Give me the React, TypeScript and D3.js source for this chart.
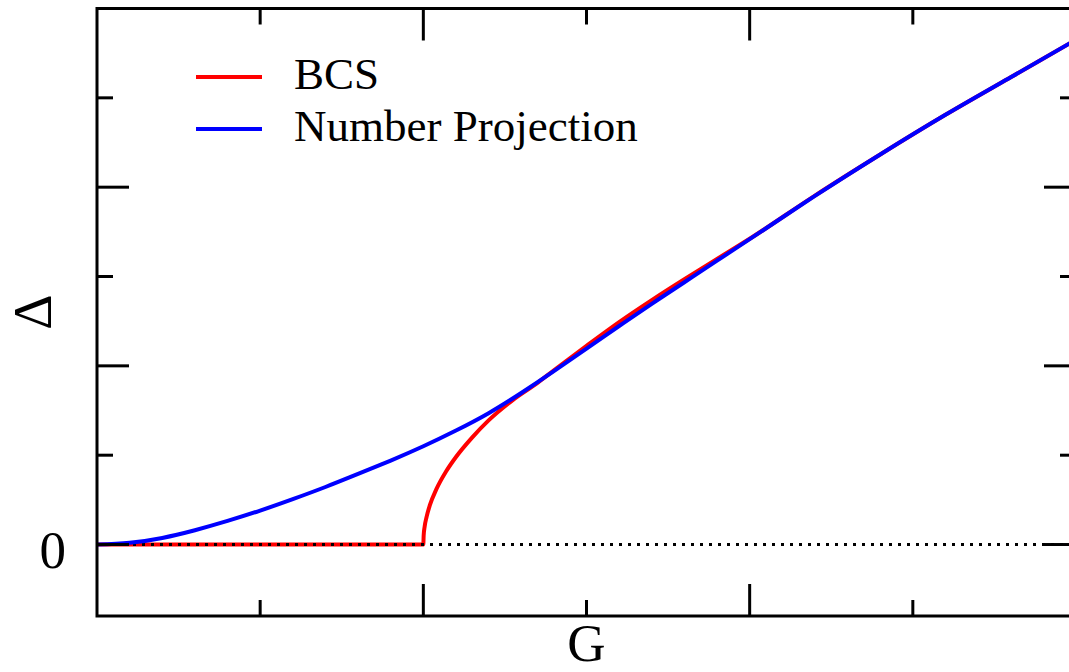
import { useRef, useEffect } from 'react';
import * as d3 from 'd3';

// G on x, Delta on y
const bcsG = [0, 0.5, 1.0, 1.001, 1.004, 1.01, 1.02, 1.04, 1.07, 1.1, 1.15, 1.2, 1.275, 1.35, 1.4, 1.5, 1.6, 1.7, 1.8, 1.9, 2.0, 2.2, 2.4, 2.6, 2.8, 3.0];
const bcsDelta = [0, 0, 0, 0.05, 0.1, 0.155, 0.22, 0.31, 0.41, 0.49, 0.6, 0.695, 0.81, 0.905, 0.975, 1.112, 1.245, 1.368, 1.485, 1.598, 1.711, 1.953, 2.183, 2.405, 2.615, 2.825];

const npG = [0, 0.1, 0.2, 0.3, 0.4, 0.5, 0.6, 0.7, 0.8, 0.9, 1.0, 1.1, 1.2, 1.3, 1.4, 1.5, 1.6, 1.7, 1.8, 1.9, 2.0, 2.2, 2.4, 2.6, 2.8, 3.0];
const npDelta = [0, 0.01, 0.037, 0.08, 0.132, 0.19, 0.254, 0.322, 0.395, 0.47, 0.55, 0.638, 0.735, 0.848, 0.97, 1.097, 1.223, 1.347, 1.468, 1.589, 1.709, 1.951, 2.183, 2.405, 2.615, 2.825];

const xMajor = [1, 2];
const xMinor = [0.5, 1.5, 2.5];
const yMajor = [0, 1, 2];
const yMinor = [0.5, 1.5, 2.5];
const yLabels = ['0'];

const legendItems = [
  { label: 'BCS', color: '#ff0000' },
  { label: 'Number Projection', color: '#0000ff' },
];

const App = () => {
  const ref = useRef<SVGSVGElement>(null);
  const width = 1069;
  const height = 672;
  const left = 97, right = 1076, top = 8.5, bottom = 616;

  useEffect(() => {
    document.body.style.margin = '0';
    const svg = d3.select(ref.current);
    svg.selectAll('*').remove();

    const x = d3.scaleLinear().domain([0, 3]).range([left, right]);
    const y = d3.scaleLinear().domain([-0.4, 3]).range([bottom, top]);
    const font = '"Liberation Serif", "Times New Roman", serif';

    const bcsLine = d3.line<[number, number]>()
      .x(d => x(d[0]))
      .y(d => y(d[1]))
      .curve(d3.curveMonotoneX);
    const npLine = d3.line<[number, number]>()
      .x(d => x(d[0]))
      .y(d => y(d[1]))
      .curve(d3.curveNatural);

    const bcs: [number, number][] = bcsG.map((g, i) => [g, bcsDelta[i]]);
    const np: [number, number][] = npG.map((g, i) => [g, npDelta[i]]);

    svg.append('path')
      .attr('d', bcsLine(bcs))
      .attr('fill', 'none')
      .attr('stroke', legendItems[0].color)
      .attr('stroke-width', 4);

    // zero reference
    svg.append('line')
      .attr('x1', x(0)).attr('x2', x(3))
      .attr('y1', y(0)).attr('y2', y(0))
      .attr('stroke', '#000')
      .attr('stroke-width', 3)
      .attr('stroke-dasharray', '3 6');

    svg.append('path')
      .attr('d', npLine(np))
      .attr('fill', 'none')
      .attr('stroke', legendItems[1].color)
      .attr('stroke-width', 4);

    // frame
    svg.append('rect')
      .attr('x', left).attr('y', top)
      .attr('width', right - left).attr('height', bottom - top)
      .attr('fill', 'none')
      .attr('stroke', '#000')
      .attr('stroke-width', 3);

    const ticks = svg.append('g').attr('stroke', '#000').attr('stroke-width', 3);
    const addX = (vals: number[], len: number) => {
      vals.forEach(v => {
        ticks.append('line').attr('x1', x(v)).attr('x2', x(v)).attr('y1', bottom).attr('y2', bottom - len);
        ticks.append('line').attr('x1', x(v)).attr('x2', x(v)).attr('y1', top).attr('y2', top + len);
      });
    };
    const addY = (vals: number[], len: number) => {
      vals.forEach(v => {
        ticks.append('line').attr('x1', left).attr('x2', left + len).attr('y1', y(v)).attr('y2', y(v));
        ticks.append('line').attr('x1', right).attr('x2', right - len).attr('y1', y(v)).attr('y2', y(v));
      });
    };
    addX(xMajor, 32);
    addX(xMinor, 16);
    addY(yMajor, 32);
    addY(yMinor, 16);

    svg.append('text')
      .attr('x', 66).attr('y', y(0) + 23)
      .attr('text-anchor', 'end')
      .attr('font-family', font)
      .attr('font-size', 53)
      .text(yLabels[0]);

    svg.append('text')
      .attr('x', x(1.5)).attr('y', 661)
      .attr('text-anchor', 'middle')
      .attr('font-family', font)
      .attr('font-size', 53)
      .text('G');

    svg.append('text')
      .attr('transform', 'translate(51, 312) rotate(-90)')
      .attr('text-anchor', 'middle')
      .attr('font-family', font)
      .attr('font-size', 55)
      .text('Δ');

    const legend = svg.append('g');
    legendItems.forEach((d, i) => {
      const ly = 77 + i * 52;
      legend.append('line')
        .attr('x1', 196).attr('x2', 262)
        .attr('y1', ly).attr('y2', ly)
        .attr('stroke', d.color)
        .attr('stroke-width', 4);
      legend.append('text')
        .attr('x', 294).attr('y', ly + 12)
        .attr('font-family', font)
        .attr('font-size', 45)
        .text(d.label);
    });
  }, []);

  return <svg ref={ref} width={width} height={height} style={{ display: 'block', background: '#fff' }} />;
};

export default App;
